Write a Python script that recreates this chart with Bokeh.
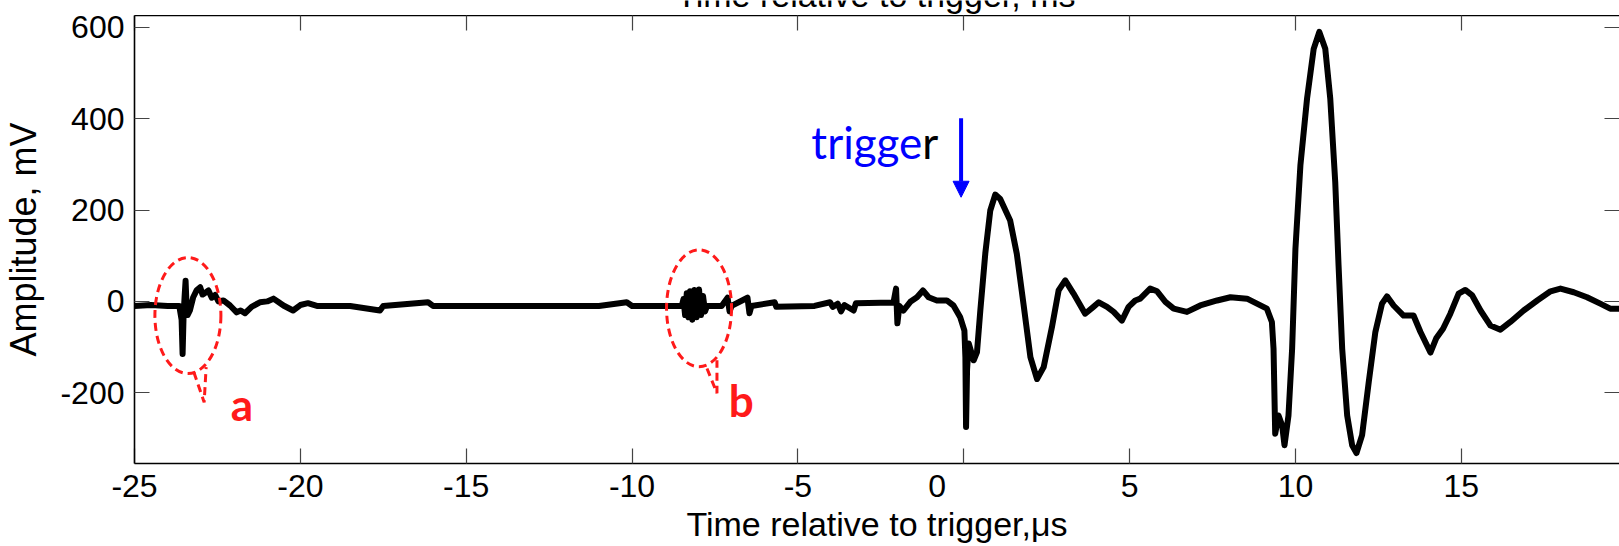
from bokeh.plotting import figure
from bokeh.layouts import column
from bokeh.models import Range1d, LinearAxis, FixedTicker, Arrow, NormalHead
from bokeh.core.properties import value
from bokeh.embed import file_html
from bokeh.resources import INLINE

# ---- data ----
time_us = [
    -25.0, -24.5, -24.0, -23.65,
    -23.58, -23.55, -23.52, -23.49, -23.46, -23.43, -23.40, -23.33, -23.23, -23.12,
    -23.02, -22.95, -22.90, -22.77, -22.67, -22.57, -22.47, -22.32, -22.12, -21.92,
    -21.80, -21.67, -21.47, -21.22, -21.0, -20.81, -20.65, -20.51, -20.22, -20.0,
    -19.77, -19.5, -18.5, -17.6, -17.5, -16.15, -16.0, -14.0, -12.0, -11.0,
    -10.16, -10.0, -9.0, -8.5,
    -8.45, -8.40, -8.35, -8.30, -8.25, -8.18, -8.12, -8.05, -7.98, -7.92, -7.86,
    -7.80, -7.74,
    -7.3, -7.12, -7.06, -7.0, -6.52, -6.46, -6.4, -5.7, -5.65, -4.5, -4.03, -3.95,
    -3.8, -3.7, -3.6, -3.32, -3.25, -2.5, -2.12, -2.04, -2.0, -1.94, -1.82, -1.61,
    -1.41, -1.23, -1.06, -0.81, -0.51, -0.31, -0.11, 0.02, 0.05, 0.07, 0.10, 0.15,
    0.30, 0.40, 0.50, 0.65, 0.80, 0.95, 1.10, 1.40, 1.60, 1.80, 2.01, 2.21, 2.41,
    2.66, 2.86, 3.06, 3.31, 3.66, 3.91, 4.07, 4.32, 4.52, 4.77, 4.97, 5.17, 5.32,
    5.62, 5.83, 6.08, 6.33, 6.73, 7.13, 7.64, 8.04, 8.54, 8.84, 9.14, 9.29, 9.34,
    9.39, 9.49, 9.60, 9.67, 9.79, 9.90, 10.00, 10.15, 10.35, 10.55, 10.72, 10.90,
    11.05, 11.20, 11.30, 11.41, 11.56, 11.71, 11.84, 12.01, 12.21, 12.41, 12.61,
    12.76, 12.96, 13.26, 13.56, 13.77, 14.07, 14.25, 14.45, 14.67, 14.92, 15.12,
    15.33, 15.58, 15.88, 16.18, 16.48, 16.88, 17.29, 17.69, 17.99, 18.39, 18.79,
    19.19, 19.49, 19.8,
]
amp_mV = [
    -10, -8, -10, -10,
    -40, -115, -30, 10, 45, -10, -30, -20, 9, 25,
    31, 15, 17, 24, 8, 14, 0, 2, -9, -24,
    -20, -26, -12, -2, 0, 6, -2, -9, -20, -8,
    -4, -10, -10, -20, -10, -2, -10, -10, -10, -10,
    -2, -10, -10, -10,
    5, -30, 18, -35, 22, -40, 25, -35, 26, -30, 12,
    -22, -10,
    -10, 8, -22, -10, 8, -26, -10, -2, -12, -10, -2, -12,
    -5, -22, -8, -20, -4, -3, -3, 28, -48, -10, -20, -1,
    9, 24, 9, 2, 2, -9, -34, -64, -122, -275, -150, -92,
    -129, -111, -20, 105, 199, 234, 224, 177, 104, -5, -122, -170, -144,
    -56, 24, 46, 17, -27, -12, -2, -12, -23, -42, -12, 2, 6,
    28, 22, -1, -16, -23, -9, 2, 9, 6, -5, -16, -45, -104,
    -290, -250, -272, -315, -250, -104, 115, 298, 444, 553, 590, 553,
    444, 261, 79, -104, -250, -315, -332, -293, -177, -67, -5,
    11, -9, -31, -31, -67, -112, -80, -60, -27, 17, 25,
    13, -20, -53, -62, -45, -20, 2, 22, 28, 20, 9,
    -5, -16, -16,
]
x_ticks = [-25, -20, -15, -10, -5, 0, 5, 10, 15]
x_tick_labels = ["-25", "-20", "-15", "-10", "-5", "0", "5", "10", "15"]
y_ticks = [-200, 0, 200, 400, 600]
y_tick_labels = ["-200", "0", "200", "400", "600"]
x_label = "Time relative to trigger,\u03bcs"
top_label = "Time relative to trigger, ms"
y_label = "Amplitude, mV"

# ---- annotations (callouts) ----
callout_x = [-23.39, -7.98]
callout_y = [-31, -15]
callout_w = [1.99, 1.96]
callout_h = [254, 256]
tail_xs = [[-23.21, -22.90, -22.84], [-7.74, -7.44, -7.44]]
tail_ys = [[-155, -221, -144], [-147, -201, -129]]
callout_names = ["a", "b"]
callout_label_x = [-21.76, -6.71]
callout_label_y = [-225, -216]

AX_FONT = "Liberation Sans"
X0, X1 = -25, 19.77
Y0, Y1 = -355, 626
LEFT_BORDER = 134

x_range = Range1d(X0, X1)

# header strip that holds the (cut-off) top axis title
header = figure(width=1619, height=15, output_backend="svg", toolbar_location=None,
                x_range=x_range, y_range=Range1d(0, 15),
                min_border_left=LEFT_BORDER, min_border_right=0, min_border_top=0,
                min_border_bottom=0, x_axis_location=None, y_axis_location=None)
header.outline_line_color = None
header.grid.visible = False
header.title.visible = False
header.text(x=[-2.65], y=[21], text=[top_label], text_font=value(AX_FONT),
            text_font_size=value("34px"), text_align="center",
            text_baseline="middle", text_color="black")

p = figure(width=1619, height=531, output_backend="svg", toolbar_location=None,
           x_range=x_range, y_range=Range1d(Y0, Y1),
           min_border_left=LEFT_BORDER, min_border_right=0, min_border_top=0,
           min_border_bottom=83, x_axis_location=None, y_axis_location=None)
p.outline_line_color = None
p.grid.visible = False
p.title.visible = False
p.background_fill_color = "white"
p.border_fill_color = "white"

def mk_axis(ticks, labels=None):
    axis = LinearAxis()
    axis.ticker = FixedTicker(ticks=ticks)
    axis.axis_line_color = "black"
    axis.axis_line_width = 1.6
    axis.major_tick_in = 15
    axis.major_tick_out = 0
    axis.major_tick_line_color = "#444444"
    axis.major_tick_line_width = 1.2
    axis.minor_tick_line_color = None
    if labels is not None:
        axis.major_label_text_font = AX_FONT
        axis.major_label_text_font_size = "32px"
        axis.major_label_text_color = "black"
        axis.major_label_overrides = {t: l for t, l in zip(ticks, labels)}
    else:
        axis.major_label_text_font_size = "0px"
        axis.major_label_standoff = 0
    return axis

# the "0" of the bottom axis is drawn a little left of its tick in the reference
bottom_labels = [l if l != "0" else "0" + "\u00a0" * 6 for l in x_tick_labels]
bottom = mk_axis(x_ticks, bottom_labels)
bottom.major_label_standoff = 4
bottom.axis_label = x_label
bottom.axis_label_text_font = AX_FONT
bottom.axis_label_text_font_size = "34px"
bottom.axis_label_text_font_style = "normal"
bottom.axis_label_text_color = "black"
bottom.axis_label_standoff = -2
p.add_layout(bottom, "below")

left = mk_axis(y_ticks, y_tick_labels)
left.major_label_standoff = 10
left.axis_label = y_label
left.axis_label_text_font = AX_FONT
left.axis_label_text_font_size = "36px"
left.axis_label_text_font_style = "normal"
left.axis_label_text_color = "black"
left.axis_label_standoff = 13
p.add_layout(left, "left")

top = mk_axis(x_ticks)
p.add_layout(top, "above")

right = mk_axis(y_ticks)
right.axis_line_color = None
p.add_layout(right, "right")

# waveform
p.line(time_us, amp_mV, line_color="black", line_width=6, line_join="round")

# callouts
p.ellipse(x=callout_x, y=callout_y, width=callout_w, height=callout_h,
          fill_color=None, line_color="#ff1a1a", line_width=3, line_dash="8 5")
p.multi_line(xs=tail_xs, ys=tail_ys, line_color="#ff1a1a", line_width=3, line_dash="8 5")
p.text(x=callout_label_x, y=callout_label_y, text=callout_names, text_color="#ff1a1a",
       text_font=value("Lato"), text_font_style="bold", text_font_size=value("44px"),
       text_align="center", text_baseline="middle")

# trigger annotation
p.text(x=[-1.25], y=[348], text=["trigge"], text_color="#0000ff", text_font=value("Lato"),
       text_font_size=value("44px"), text_align="right", text_baseline="middle")
p.text(x=[-1.25], y=[348], text=["r"], text_color="black", text_font=value("Lato"),
       text_font_size=value("44px"), text_align="left", text_baseline="middle")
p.add_layout(Arrow(x_start=-0.08, y_start=401, x_end=-0.08, y_end=228,
                   line_color="#0000ff", line_width=4,
                   end=NormalHead(size=16, fill_color="#0000ff", line_color="#0000ff")))

open("out.html", "w").write(file_html(column(header, p), INLINE))
